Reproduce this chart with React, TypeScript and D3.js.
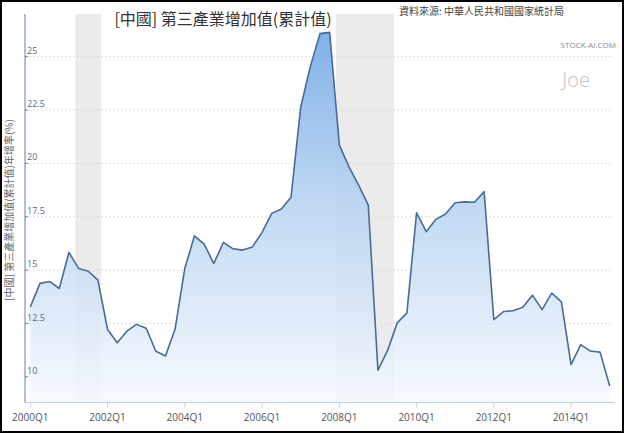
import React from "react";
import * as d3 from "d3";

// quarterly growth, 2000Q1 .. 2015Q1
const years = d3.range(2000, 2016);
const quarters = years.flatMap((y) => [1, 2, 3, 4].map((q) => `${y}Q${q}`)).slice(0, 61);

const growth = [
    13.28, 14.38, 14.47, 14.14, 15.83, 15.08, 14.95, 14.53, 12.22, 11.6,
    12.14, 12.46, 12.28, 11.2, 10.98, 12.26, 15.08, 16.61, 16.22, 15.31,
    16.3, 16.0, 15.94, 16.09, 16.77, 17.66, 17.86, 18.41, 22.64, 24.54,
    26.08, 26.14, 20.87, 19.84, 18.98, 18.05, 10.31, 11.24, 12.53, 13.0,
    17.69, 16.8, 17.38, 17.63, 18.16, 18.2, 18.18, 18.68, 12.68, 13.06,
    13.1, 13.26, 13.83, 13.15, 13.92, 13.51, 10.57, 11.51, 11.21, 11.16,
    9.57,
];

const xTickLabels = ["2000Q1", "2002Q1", "2004Q1", "2006Q1", "2008Q1", "2010Q1", "2012Q1", "2014Q1"];
const yTicks = [10, 12.5, 15, 17.5, 20, 22.5, 25];

// recession periods, in quarter index units (month precision)
const bandStarts = [4 + 2 / 3, 28 + 11 / 3];
const bandEnds = [4 + 10 / 3, 36 + 5 / 3];

const W = 624;
const H = 433;
const left = 25;
const right = 615;
const top = 14;
const bottom = 402.5;

const cjk = "'Noto Sans CJK TC', 'Noto Sans', sans-serif";
const latin = "'Open Sans', 'Noto Sans', sans-serif";

const App: React.FC = () => {
    const x = d3.scaleLinear().domain([-0.55, 60.55]).range([left, right]);
    const y = d3.scaleLinear().domain([8.8, 27.0]).range([bottom, top]);

    const area = d3
        .area<number>()
        .x((_, i) => x(i))
        .y0(bottom)
        .y1((d) => y(d));
    const line = d3
        .line<number>()
        .x((_, i) => x(i))
        .y((d) => y(d));

    return (
        <svg
            width={W}
            height={H}
            style={{ position: "absolute", left: 0, top: 0, display: "block" }}
        >
            <defs>
                <linearGradient id="fillGrad" gradientUnits="userSpaceOnUse" x1="0" y1={30} x2="0" y2={bottom}>
                    <stop offset="0" stopColor="#6aa3e4" />
                    <stop offset="0.45" stopColor="#b3d1f1" />
                    <stop offset="1" stopColor="#f6f9fe" />
                </linearGradient>
            </defs>
            <rect x={1} y={1} width={W - 2} height={H - 2} fill="#fff" stroke="#000" strokeWidth={2} />

            {bandStarts.map((s, i) => (
                <rect
                    key={i}
                    x={x(s)}
                    y={top}
                    width={x(bandEnds[i]) - x(s)}
                    height={bottom - top - 1}
                    fill="#ebebeb"
                />
            ))}

            {yTicks.map((t) => (
                <line
                    key={t}
                    x1={left}
                    x2={613}
                    y1={y(t)}
                    y2={y(t)}
                    stroke="#dcdcdc"
                    strokeDasharray="2,2"
                />
            ))}

            <path d={area(growth) ?? ""} fill="url(#fillGrad)" fillOpacity={0.85} />
            <path d={line(growth) ?? ""} fill="none" stroke="#4a6b98" strokeWidth={1.6} strokeLinejoin="round" />

            {/* y axis */}
            <line x1={left} x2={left} y1={top} y2={bottom} stroke="#6580a0" />
            {yTicks.map((t) => (
                <g key={t}>
                    <line x1={left} x2={left + 3} y1={y(t)} y2={y(t)} stroke="#6580a0" />
                    <text x={left + 2} y={y(t) - 3} fontSize={9} fill="#5a6b80" fontFamily={latin}>
                        {t}
                    </text>
                </g>
            ))}
            <text
                transform={`translate(13, 210) rotate(-90)`}
                textAnchor="middle"
                fontSize={10}
                fill="#666"
                fontFamily={cjk}
            >
                [中國] 第三產業增加值(累計值)年增率(%)
            </text>

            {/* x axis */}
            <line x1={left} x2={right} y1={bottom} y2={bottom} stroke="#c3d1e0" />
            {xTickLabels.map((lab) => {
                const i = quarters.indexOf(lab);
                return (
                    <g key={lab}>
                        <line x1={x(i)} x2={x(i)} y1={bottom} y2={bottom + 5} stroke="#c3d1e0" />
                        <text x={x(i)} y={421} textAnchor="middle" fontSize={10} fill="#555" fontFamily={latin}>
                            {lab}
                        </text>
                    </g>
                );
            })}

            <text x={223} y={25} textAnchor="middle" fontSize={16} fill="#333" fontFamily={cjk}>
                [中國] 第三產業增加值(累計值)
            </text>
            <text x={399} y={15} fontSize={10} fill="#444" fontFamily={cjk}>
                資料來源: 中華人民共和國國家統計局
            </text>
            <text x={616} y={48} textAnchor="end" fontSize={8} fill="#888" fontFamily={latin}>
                STOCK-AI.COM
            </text>
            <text x={590} y={87} textAnchor="end" fontSize={20} fill="#c2c2c2" fontFamily={latin} fontWeight={300}>
                Joe
            </text>
        </svg>
    );
};

export default App;
